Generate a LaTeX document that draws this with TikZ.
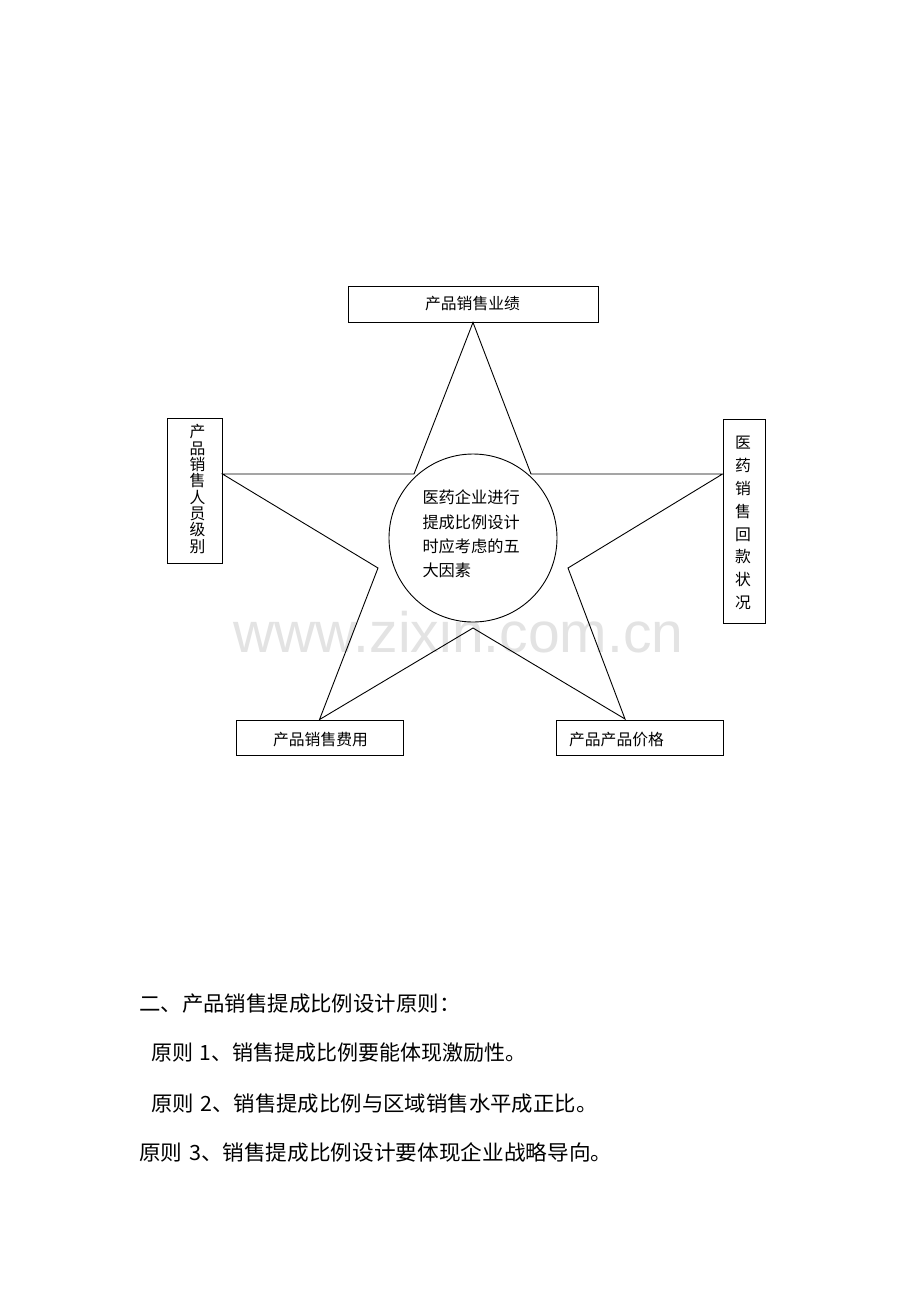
\documentclass[tikz,border=0pt]{standalone}
\usepackage{fontspec}
\newfontfamily\cjk{Noto Sans CJK SC}
\newfontfamily\wmfont{Liberation Sans}
\tikzset{
  box/.style={draw=black, line width=0.9pt, inner sep=0pt, fill=white},
  lbl/.style={font=\cjk\fontsize{15.8}{16.3}\selectfont, inner sep=0pt, align=center},
  para/.style={font=\cjk\fontsize{21}{24}\selectfont, inner sep=0pt, anchor=base west, transform shape},
  starline/.style={draw=black, line width=0.9pt, line join=miter},
}
\begin{document}
\begin{tikzpicture}[x=1pt,y=-1pt]
\useasboundingbox (0,0) rectangle (920,1302);
\fill[white] (0,0) rectangle (920,1302);
% watermark
\node[font=\wmfont\fontsize{57}{57}\selectfont, text=black!11, inner sep=0pt, anchor=base] (wm) at (458.5,652) {www.zixin.com.cn};
% boxes
\node[box, minimum width=250pt, minimum height=36pt] (top) at (473,304) {};
\node[box, minimum width=55pt, minimum height=145pt] (left) at (194.5,490.5) {};
\node[box, minimum width=42pt, minimum height=204pt] (right) at (744,521) {};
\node[box, minimum width=167pt, minimum height=35pt] (bl) at (319.5,737.5) {};
\node[box, minimum width=167pt, minimum height=35pt] (br) at (639.5,737.5) {};
% star coordinates
\coordinate (tT) at (top.south);
\coordinate (iUR) at (531,474);
\coordinate (tR) at (right.west |- 0,474);
\coordinate (iR) at (568,568);
\coordinate (tBR) at (625,719);
\coordinate (iB) at (473,628);
\coordinate (tBL) at (bl.north);
\coordinate (iL) at (378,568);
\coordinate (tL) at (left.east |- 0,474);
\coordinate (iUL) at (414,474);
\draw[starline] (tT) -- (iUR) -- (tR) -- (iR) -- (tBR) -- (iB) -- (tBL) -- (iL) -- (tL) -- (iUL) -- cycle;
% circle
\node[draw=black, line width=0.9pt, circle, minimum size=168pt, fill=white, inner sep=0pt] (c) at (473,538) {};
% labels
\node[lbl] (ttop) at (472.5,304) {产品销售业绩};
\node[lbl] (tleft) at (197.5,489) {产\\品\\销\\售\\人\\员\\级\\别};
\node[lbl, font=\cjk\fontsize{15.8}{22.9}\selectfont] (tright) at (743,523) {医\\药\\销\\售\\回\\款\\状\\况};
\node[lbl] (tbl) at (320.5,739.5) {产品销售费用};
\node[lbl] (tbr) at (616.5,739.5) {产品产品价格};
\node[lbl, font=\cjk\fontsize{16.2}{24.3}\selectfont, align=left, text width=98pt] (tc) at (471.5,534) {医药企业进行\\提成比例设计\\时应考虑的五\\大因素};
% paragraph
\node[para, xscale=1.02] (p1) at (139,1011) {二、产品销售提成比例设计原则：};
\node[para] (p2) at (151,1060) {原则\hspace{0.3em}1、销售提成比例要能体现激励性。};
\node[para, xscale=1.019] (p3) at (151,1111) {原则\hspace{0.3em}2、销售提成比例与区域销售水平成正比。};
\node[para, xscale=1.031] (p4) at (139,1160) {原则\hspace{0.3em}3、销售提成比例设计要体现企业战略导向。};
\end{tikzpicture}
\end{document}
